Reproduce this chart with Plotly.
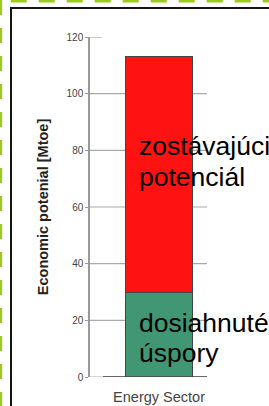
import plotly.graph_objects as go

# ---- data ----
categories = ["Energy Sector"]
achieved = [30]          # dosiahnuté úspory [Mtoe]
remaining = [83]         # zostávajúci potenciál [Mtoe]
y_ticks = [0, 20, 40, 60, 80, 100, 120]
y_title = "Economic potenial [Mtoe]"
label_remaining = ["zostávajúci", "potenciál"]
label_achieved = ["dosiahnuté", "úspory"]

# ---- layout geometry (pixels) ----
W, H = 269, 406
L, R, T, B = 90, 62, 37, 29
PW, PH = W - L - R, H - T - B


def px(xp):
    return (xp - L) / PW


def py(yp):
    return (H - B - yp) / PH


FONT = "Liberation Sans, Arial, sans-serif"
fig = go.Figure()
fig.add_trace(go.Bar(x=categories, y=achieved, width=0.58,
                     marker=dict(color="#419774", line=dict(color="#444", width=1)),
                     showlegend=False))
fig.add_trace(go.Bar(x=categories, y=remaining, width=0.58,
                     marker=dict(color="#ff1212", line=dict(color="#444", width=1)),
                     showlegend=False))

shapes = []
# gridlines
for v in y_ticks:
    if v == max(y_ticks):
        shapes.append(dict(type="line", xref="paper", yref="y", x0=0, x1=px(102), y0=v, y1=v,
                           line=dict(color="#aaaaaa", width=1.2), layer="below"))
    else:
        shapes.append(dict(type="line", xref="paper", yref="y", x0=0, x1=1, y0=v, y1=v,
                           line=dict(color="#aaaaaa", width=1.2), layer="below"))
# baseline
shapes.append(dict(type="line", xref="paper", yref="y", x0=px(103), x1=1, y0=0, y1=0,
                   line=dict(color="#444444", width=1.5), layer="above"))
# green dashed outer frame
shapes.append(dict(type="line", xref="paper", yref="paper", x0=px(10.7), x1=px(W), y0=py(1.2), y1=py(1.2),
                   line=dict(color="#9acb1c", width=2.6, dash="16px,12px")))
shapes.append(dict(type="line", xref="paper", yref="paper", x0=px(1), x1=px(1), y0=py(0), y1=py(H),
                   line=dict(color="#9acb1c", width=2.2, dash="15px,13px")))
# black inner frame
shapes.append(dict(type="line", xref="paper", yref="paper", x0=px(11), x1=px(11), y0=py(8), y1=py(H),
                   line=dict(color="#151515", width=2)))
shapes.append(dict(type="line", xref="paper", yref="paper", x0=px(10), x1=px(W), y0=py(8), y1=py(8),
                   line=dict(color="#151515", width=2)))

annotations = []
for txt, yb in zip(label_remaining + label_achieved, [154, 185, 331.7, 361.7]):
    annotations.append(dict(text=txt, xref="paper", yref="paper", x=px(136.5), y=py(yb - 8.5),
                            xanchor="left", yanchor="middle", showarrow=False,
                            font=dict(family=FONT, size=26.5, color="#000000")))

fig.update_layout(
    width=W, height=H,
    margin=dict(l=L, r=R, t=T, b=B, autoexpand=False),
    paper_bgcolor="white", plot_bgcolor="white",
    barmode="stack",
    shapes=shapes, annotations=annotations,
    font=dict(family=FONT),
    xaxis=dict(type="category", range=[-0.59, 0.41], showgrid=False, zeroline=False,
               showline=False, ticks="", ticklabelstandoff=9,
               tickfont=dict(size=14.5, color="#444444")),
    yaxis=dict(range=[0, 120], tickvals=y_ticks, showgrid=False, zeroline=False,
               showline=True, linecolor="#999999", linewidth=1.5,
               ticks="outside", ticklen=3, tickcolor="#999999",
               tickfont=dict(size=10, color="#444444"),
               title=dict(text=y_title, standoff=14,
                          font=dict(size=14.5, color="#222222", weight="bold"))),
)

fig.write_html("out.html", config={"displayModeBar": False},
               post_script="document.body.style.margin='0';document.body.style.overflow='hidden';")
